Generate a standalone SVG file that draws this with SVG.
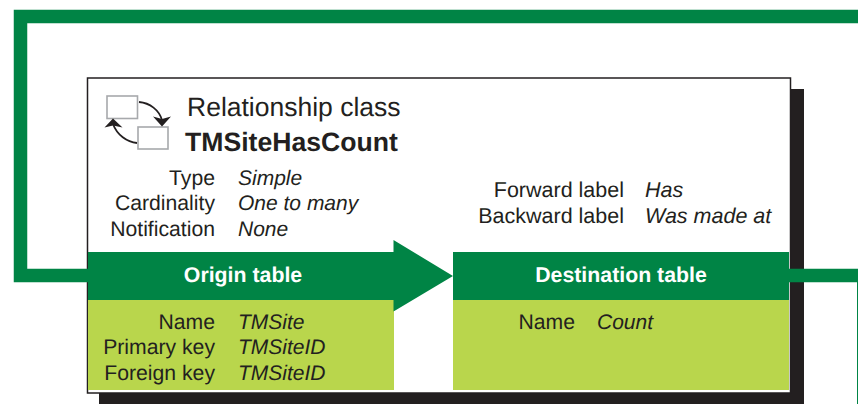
<svg xmlns="http://www.w3.org/2000/svg" width="858" height="404" viewBox="0 0 858 404">
<defs>
<style>
text{font-family:"Liberation Sans",Arial,sans-serif;font-size:21.200px;fill:#231f20;text-rendering:geometricPrecision}
.r{text-anchor:end}
.i{font-style:italic;font-size:21px}
.w{font-size:21.500px}
.h{font-weight:bold;fill:#fff;text-anchor:middle;font-size:21.300px}
.dark{fill:#008445}
.light{fill:#b9d64c}
.ic{fill:#fff;stroke:#a7a9ac;stroke-width:1.600}
.cv{fill:none;stroke:#231f20;stroke-width:1.800}
</style>
</defs>
<g id="panel">
<rect x="99" y="89" width="705" height="315" fill="#231f20"/>
<rect x="87.500" y="78" width="703" height="315" fill="#fff" stroke="#231f20" stroke-width="1.500"/>
</g>
<g id="connectors">
<path d="M88 275.500H20.500V16.500H858" fill="none" stroke="#008445" stroke-width="13.500"/>
<path d="M788 275.500H858" fill="none" stroke="#008445" stroke-width="13.500"/>
<path d="M857.500 282V404" fill="none" stroke="#008445" stroke-width="1"/>
</g>
<g id="icon">
<rect class="ic" x="107" y="96" width="30.500" height="22.500"/>
<rect class="ic" x="138" y="127" width="30" height="22"/>
<path class="cv" d="M139 102C150 103 159 110 162 120"/>
<path d="M153 116.500L162 119L171 116.500L162 126.500Z" fill="#231f20"/>
<path class="cv" d="M137 143C127 142 117 135 113 124"/>
<path d="M104.500 127.500L113 118.500L122.500 127.500L113 125.500Z" fill="#231f20"/>
</g>
<g id="title">
<text x="187" y="116" style="font-size:26.500px">Relationship class</text>
<text x="185" y="151" style="font-size:26.600px;font-weight:bold">TMSiteHasCount</text>
</g>
<g id="properties">
<text class="r" x="215" y="185">Type</text><text class="i" x="238" y="185">Simple</text>
<text class="r" x="215" y="210">Cardinality</text><text class="i" x="238" y="210">One to many</text>
<text class="r" x="215" y="236">Notification</text><text class="i" x="238" y="236">None</text>
</g>
<g id="labels">
<text class="r w" x="624" y="197">Forward label</text><text class="i w" x="645" y="197">Has</text>
<text class="r w" x="624" y="223">Backward label</text><text class="i w" x="645" y="223">Was made at</text>
</g>
<g id="origin-table">
<rect class="light" x="88" y="300" width="306" height="90"/>
<path class="dark" d="M88 252H393.500V240L453 276L393.500 311.500V300H88Z"/>
<text class="h" x="243" y="281.500">Origin table</text>
<text class="r" x="215" y="329">Name</text><text class="i" x="238" y="329">TMSite</text>
<text class="r" x="215" y="354">Primary key</text><text class="i" x="238" y="354">TMSiteID</text>
<text class="r" x="215" y="380">Foreign key</text><text class="i" x="238" y="380">TMSiteID</text>
</g>
<g id="destination-table">
<rect class="light" x="453" y="300" width="336" height="90"/>
<rect class="dark" x="453" y="252" width="336" height="48"/>
<text class="h" x="621" y="281.500">Destination table</text>
<text class="r" x="575" y="329">Name</text><text class="i" x="597" y="329">Count</text>
</g>
</svg>
